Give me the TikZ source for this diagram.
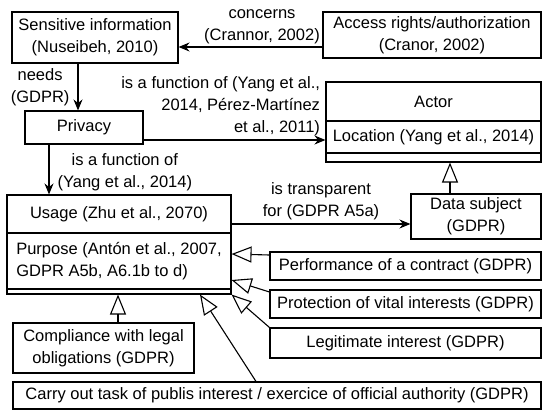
\documentclass[tikz,border=0pt]{standalone}
\usepackage{fontspec}
\setmainfont{Liberation Sans}
\usetikzlibrary{arrows.meta}
\tikzset{
        box/.style={draw, rectangle, inner sep=0pt, align=center, line width=1.1pt},
        lbox/.style={box, align=left},
        assoc/.style={-{Stealth[length=11pt,width=9pt]}, line width=1.1pt},
        isa/.style={-{Triangle[open,length=20pt,width=16pt]}, line width=1.1pt},
        lbl/.style={inner sep=0pt, align=center},
}
\begin{document}
\begin{tikzpicture}[x=1pt, y=-1pt, font=\fontsize{16.5}{22}\selectfont]
        \useasboundingbox (0,0) rectangle (542,410);

        \node[box, minimum width=166pt, minimum height=51pt] (sens) at (95,37.5) {Sensitive information\\(Nuseibeh, 2010)};
        \node[box, minimum width=218pt, minimum height=46pt] (access) at (432,35) {Access rights/authorization\\(Cranor, 2002)};
        \node[box, minimum width=118pt, minimum height=33pt] (privacy) at (84,127.5) {Privacy};

        \node[box, minimum width=215pt, minimum height=39pt] (actor) at (433.5,101.5) {Actor};
        \node[lbox, minimum width=215pt, minimum height=32pt] (location) at (433.5,137) {Location (Yang et al., 2014)};
        \node[box, minimum width=215pt, minimum height=9pt] (actorops) at (433.5,157.5) {};

        \node[box, minimum width=224pt, minimum height=38pt] (usage) at (119,214) {Usage (Zhu et al., 2070)};
        \node[lbox, minimum width=224pt, minimum height=56pt] (purpose) at (119,261) {Purpose (Antón et al., 2007,\\GDPR A5b, A6.1b to d)};
        \node[box, minimum width=224pt, minimum height=5pt] (usageops) at (119,291.5) {};

        \node[box, minimum width=130pt, minimum height=45pt] (subject) at (476,216.5) {Data subject\\(GDPR)};
        \node[box, minimum width=271pt, minimum height=28pt] (contract) at (405.5,266) {Performance of a contract (GDPR)};
        \node[box, minimum width=271pt, minimum height=28pt] (vital) at (405.5,304) {Protection of vital interests (GDPR)};
        \node[box, minimum width=271pt, minimum height=30pt] (legit) at (405.5,343) {Legitimate interest (GDPR)};
        \node[box, minimum width=181pt, minimum height=50pt] (legal) at (103.5,348) {Compliance with legal\\obligations (GDPR)};
        \node[box, minimum width=528pt, minimum height=27pt] (public) at (277,395.5) {Carry out task of publis interest / exercice of official authority (GDPR)};

        \draw[assoc] (access.west |- 0,47) -- (sens.east |- 0,47) node[lbl, pos=0.42, anchor=south, yshift=3pt] {concerns\\(Crannor, 2002)};
        \draw[assoc] (sens.south -| 78,0) -- (privacy.north -| 78,0) node[lbl, midway, left=8pt] {needs\\(GDPR)};
        \draw[assoc] (privacy.east |- 0,140) -- (location.west |- 0,140) node[lbl, align=right, pos=0.973, anchor=south east, yshift=4pt] {is a function of (Yang et al.,\\2014, Pérez-Martínez\\et al., 2011)};
        \draw[assoc] (privacy.south -| 49,0) -- (usage.north -| 49,0) node[lbl, midway, right=8pt, yshift=-3pt] {is a function of\\(Yang et al., 2014)};
        \draw[assoc] (usage.east |- 0,224) -- (subject.west |- 0,224) node[lbl, midway, above=4pt] {is transparent\\for (GDPR A5a)};

        \draw[isa] (subject.north -| 450,0) -- (actorops.south -| 450,0);
        \draw[isa] (legal.north -| 118,0) -- (usageops.south -| 118,0);
        \draw[isa] (public.north -| 256,0) -- (usageops.south -| 200,0);
        \draw[isa] (contract.west |- 0,255) -- (purpose.east |- 0,254);
        \draw[isa] (vital.west |- 0,292) -- (purpose.east |- 0,280);
        \draw[isa] (legit.north west) -- (usageops.south east);
\end{tikzpicture}
\end{document}
